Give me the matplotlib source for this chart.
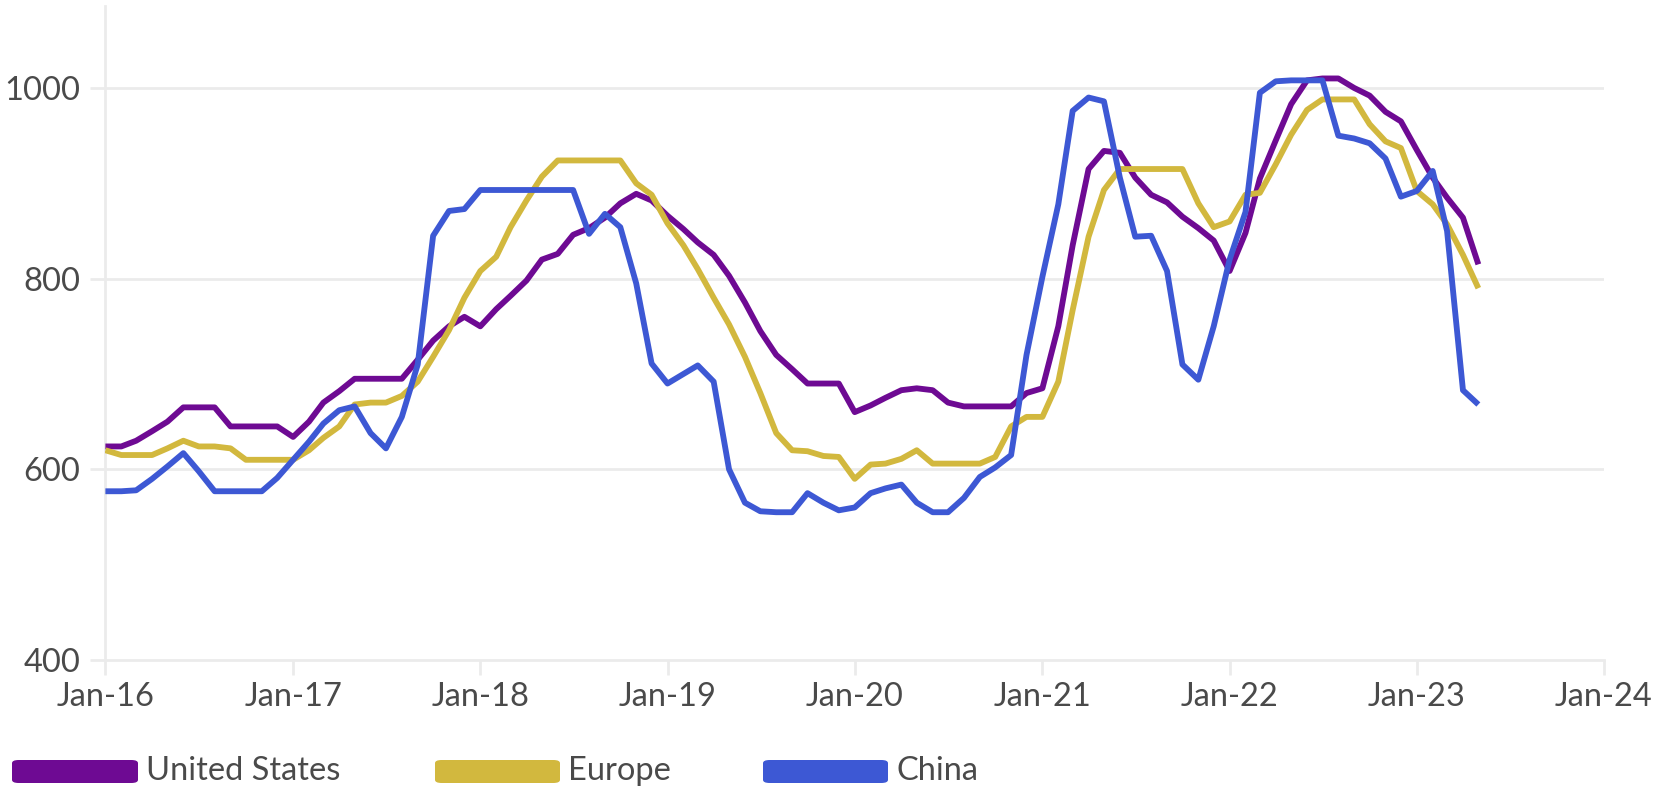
import matplotlib
matplotlib.use("Agg")
import matplotlib.pyplot as plt
import matplotlib.dates as mdates
from matplotlib.patches import FancyBboxPatch
import pandas as pd

# ---- data (monthly, Jan-2016 .. May-2023) ----
start_month = "2016-01-01"
n_months = 89

united_states = [
    624, 624, 630, 640, 650, 665, 665, 665, 645, 645, 645, 645,
    634, 650, 670, 682, 695, 695, 695, 695, 715, 735, 750, 760,
    750, 768, 782, 798, 820, 826, 846, 853, 864, 879, 889, 882,
    866, 852, 838, 825, 803, 775, 745, 720, 705, 690, 690, 690,
    660, 667, 675, 683, 685, 683, 670, 666, 666, 666, 666, 680,
    685, 750, 835, 915, 934, 932, 906, 888, 880, 865, 853, 840,
    808, 848, 905, 945, 983, 1008, 1010, 1010, 1000, 992, 975, 965,
    935, 906, 885, 864, 815,
]
europe = [
    620, 615, 615, 615, 622, 630, 624, 624, 622, 610, 610, 610,
    610, 620, 633, 645, 668, 670, 670, 677, 692, 718, 746, 780,
    808, 823, 854, 882, 907, 924, 924, 924, 924, 924, 900, 888,
    858, 835, 810, 780, 752, 718, 680, 638, 620, 619, 614, 613,
    590, 605, 606, 611, 620, 606, 606, 606, 606, 613, 645, 655,
    655, 692, 767, 844, 893, 915, 915, 915, 915, 915, 879, 854,
    860, 888, 890, 920, 951, 977, 988, 988, 988, 962, 944, 937,
    892, 878, 857, 825, 790,
]
china = [
    577, 577, 578, 590, 603, 617, 598, 577, 577, 577, 577, 591,
    610, 629, 648, 662, 666, 638, 622, 655, 710, 845, 871, 873,
    893, 893, 893, 893, 893, 893, 893, 847, 868, 854, 795, 711,
    690, 700, 709, 692, 600, 565, 556, 555, 555, 575, 565, 557,
    560, 575, 580, 584, 565, 555, 555, 570, 592, 602, 615, 720,
    802, 878, 976, 990, 986, 906, 844, 845, 808, 710, 694, 750,
    820, 870, 995, 1007, 1008, 1008, 1008, 950, 947, 942, 926, 886,
    892, 913, 850, 683, 668,
]
series_names = ["United States", "Europe", "China"]
series_colors = ["#6e0a93", "#d2b83e", "#3d58d4"]
tick_years = list(range(2016, 2025))
y_ticks = [400, 600, 800, 1000]

dates = pd.date_range(start_month, periods=n_months, freq="MS")

FONT = ["Lato", "DejaVu Sans"]
TXT = "#4a4a4a"
GRID = "#ebebeb"
FS = 23.5

fig = plt.figure(figsize=(16.69, 7.89), dpi=100)
ax = fig.add_axes([105.4 / 1669, 1 - 660 / 789, (1604 - 105.4) / 1669, (660 - 6) / 789])

for vals, col in zip([united_states, europe, china], series_colors):
    ax.plot(dates, vals, color=col, lw=4.2, solid_joinstyle="round",
            solid_capstyle="butt", zorder=3)

ax.set_ylim(400, 1086)
ax.set_xlim(pd.Timestamp("2016-01-01"), pd.Timestamp("2024-01-01"))
ax.set_yticks(y_ticks)
ax.set_xticks([pd.Timestamp(f"{y}-01-01") for y in tick_years])
ax.xaxis.set_major_formatter(mdates.DateFormatter("Jan-%y"))

for v in y_ticks[1:]:
    ax.axhline(v, color=GRID, lw=2, zorder=1)

for s in ["top", "right"]:
    ax.spines[s].set_visible(False)
for s in ["left", "bottom"]:
    ax.spines[s].set_color(GRID)
    ax.spines[s].set_linewidth(2)

ax.tick_params(axis="both", color=GRID, width=2, length=11)
ax.tick_params(axis="both", labelcolor=TXT, labelsize=FS)
ax.tick_params(axis="y", pad=7)
ax.tick_params(axis="x", pad=5)
for lab in ax.get_xticklabels() + ax.get_yticklabels():
    lab.set_family(FONT)
    lab.set_color(TXT)

# legend
sw = [(12, 138), (435, 560), (763, 888)]
y0, y1 = 760, 783
for (xa, xb), col, name in zip(sw, series_colors, series_names):
    p = FancyBboxPatch((xa / 1669, 1 - y1 / 789), (xb - xa) / 1669, (y1 - y0) / 789,
                       boxstyle="round,pad=0,rounding_size=0.004",
                       transform=fig.transFigure, facecolor=col, edgecolor="none")
    fig.add_artist(p)
    fig.text((xb + 8) / 1669, 1 - (y0 + y1) / 2 / 789, name, family=FONT,
             fontsize=FS, color=TXT, va="center", ha="left")

fig.savefig("out.png", dpi=100)
